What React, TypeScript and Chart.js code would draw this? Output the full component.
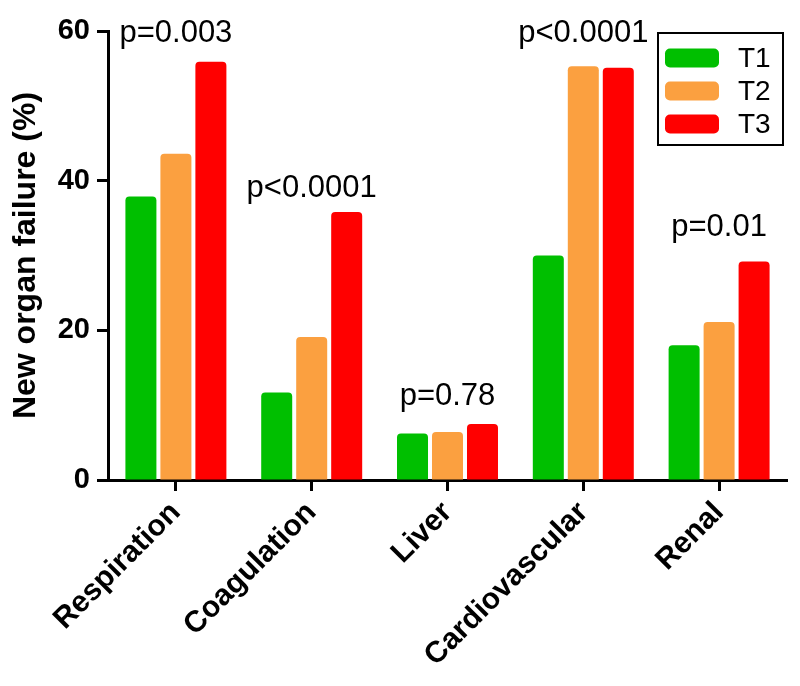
import React, { useEffect, useRef } from "react";
import { Chart, registerables } from "chart.js";

Chart.register(...registerables);

const categories = ["Respiration", "Coagulation", "Liver", "Cardiovascular", "Renal"];
const seriesNames = ["T1", "T2", "T3"];
const seriesColors = ["#00BF00", "#FBA040", "#FF0000"];
const t1Values = [37.9, 11.7, 6.2, 30.0, 18.0];
const t2Values = [43.6, 19.1, 6.4, 55.3, 21.1];
const t3Values = [55.9, 35.8, 7.5, 55.1, 29.2];
const pLabels = ["p=0.003", "p<0.0001", "p=0.78", "p<0.0001", "p=0.01"];
const pLabelLevels = [59.7, 38.9, 11.1, 59.7, 33.7];
const yTicks = [0, 20, 40, 60];

const FONT = "'Liberation Sans', Arial, Helvetica, sans-serif";

const pValuePlugin = {
  id: "pValues",
  afterDatasetsDraw(chart: any) {
    const { ctx, scales } = chart;
    ctx.save();
    ctx.font = `31px ${FONT}`;
    ctx.fillStyle = "#000";
    ctx.textAlign = "center";
    ctx.textBaseline = "middle";
    pLabels.forEach((t, i) => {
      const x = scales.x.getPixelForValue(i);
      const y = scales.y.getPixelForValue(pLabelLevels[i]);
      ctx.fillText(t, x, y);
    });
    ctx.restore();
  },
};

const boxLegendPlugin = {
  id: "boxLegend",
  afterDraw(chart: any) {
    const { ctx, chartArea } = chart;
    const right = chartArea.right - 4;
    const top = chartArea.top + 2;
    const w = 125;
    const h = 112;
    const left = right - w;
    ctx.save();
    ctx.strokeStyle = "#000";
    ctx.lineWidth = 2;
    ctx.strokeRect(left, top, w, h);
    ctx.font = `28px ${FONT}`;
    ctx.textAlign = "left";
    ctx.textBaseline = "middle";
    chart.data.datasets.forEach((ds: any, i: number) => {
      const cy = top + 25 + i * 33;
      ctx.fillStyle = ds.backgroundColor;
      ctx.beginPath();
      (ctx as any).roundRect(left + 7, cy - 9.5, 54, 19, 5);
      ctx.fill();
      ctx.fillStyle = "#000";
      ctx.fillText(ds.label, left + 80, cy + 1);
    });
    ctx.restore();
  },
};

export default function App() {
  const ref = useRef<HTMLCanvasElement>(null);
  useEffect(() => {
    if (!ref.current) return;
    const valueSets = [t1Values, t2Values, t3Values];
    const chart = new Chart(ref.current, {
      type: "bar",
      data: {
        labels: categories,
        datasets: seriesNames.map((name, i) => ({
          label: name,
          data: valueSets[i],
          backgroundColor: seriesColors[i],
          borderWidth: 0,
          borderRadius: { topLeft: 4, topRight: 4, bottomLeft: 0, bottomRight: 0 },
          borderSkipped: "start",
          barPercentage: 0.886,
          categoryPercentage: 0.773,
        })),
      },
      options: {
        responsive: false,
        animation: false,
        layout: { padding: { top: 31, right: 13, left: 0, bottom: 0 } },
        plugins: {
          legend: { display: false },
          tooltip: { enabled: false },
        },
        scales: {
          x: {
            z: 1,
            grid: {
              display: true,
              offset: false,
              drawOnChartArea: false,
              drawTicks: true,
              tickLength: 11,
              tickColor: "#000",
              tickWidth: 3,
            },
            border: { display: true, color: "#000", width: 3 },
            ticks: {
              color: "#000",
              font: { family: FONT, size: 30, weight: "bold" },
              maxRotation: 45,
              minRotation: 45,
              autoSkip: false,
              padding: 4,
            },
            afterFit(scale: any) {
              scale.height = 206;
            },
          },
          y: {
            z: 1,
            min: 0,
            max: 60,
            afterBuildTicks(scale: any) {
              scale.ticks = yTicks.map((v) => ({ value: v }));
            },
            grid: {
              display: true,
              drawOnChartArea: false,
              drawTicks: true,
              tickLength: 11,
              tickColor: "#000",
              tickWidth: 3,
            },
            border: { display: true, color: "#000", width: 3 },
            ticks: {
              color: "#000",
              font: { family: FONT, size: 29, weight: "bold" },
              padding: 7,
            },
            title: {
              display: true,
              text: "New organ failure (%)",
              color: "#000",
              font: { family: FONT, size: 32, weight: "bold" },
              padding: { top: 7, bottom: 0 },
            },
            afterFit(scale: any) {
              scale.width = 108;
            },
          },
        },
      },
      plugins: [pValuePlugin, boxLegendPlugin],
    } as any);
    return () => chart.destroy();
  }, []);
  return (
    <div style={{ position: "fixed", left: 0, top: 0, width: 800, height: 686, background: "#fff" }}>
      <canvas ref={ref} width={800} height={686} style={{ display: "block" }} />
    </div>
  );
}
